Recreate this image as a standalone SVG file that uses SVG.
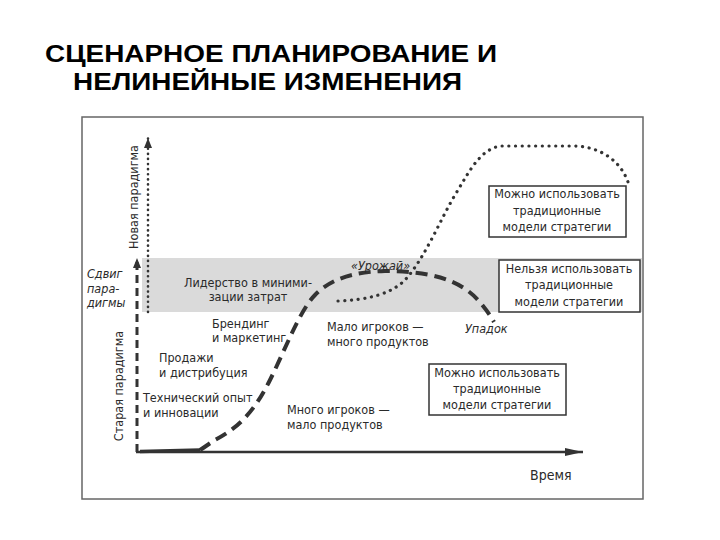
<svg xmlns="http://www.w3.org/2000/svg" width="720" height="540" viewBox="0 0 720 540">
<style>
.t{font-family:"DejaVu Sans Condensed","DejaVu Sans",sans-serif;font-size:12.5px;fill:#2a2a2a}
.i{font-style:italic}
.m{text-anchor:middle}
.title{font-family:"Liberation Sans",Arial,sans-serif;font-weight:bold;font-size:24px;fill:#000}
.box{fill:#fff;stroke:#333;stroke-width:1.5}
.dash{fill:none;stroke:#333;stroke-width:4;stroke-dasharray:12 7}
.dot{fill:none;stroke:#333;stroke-width:3.2;stroke-linecap:round;stroke-dasharray:0.1 6.6}
</style>
<defs>
<marker id="ah" viewBox="0 0 10 10" refX="10" refY="5" markerWidth="10" markerHeight="10" markerUnits="userSpaceOnUse" orient="auto">
<path d="M0,1 L10,5 L0,9 Z" fill="#333"/>
</marker>
<marker id="ahx" viewBox="0 0 18 8" refX="18" refY="4" markerWidth="18" markerHeight="8" markerUnits="userSpaceOnUse" orient="auto">
<path d="M0,0 L18,4 L0,8 Z" fill="#333"/>
</marker>
</defs>
<rect width="720" height="540" fill="#fff"/>
<g id="title">
<text class="title" x="45" y="62" textLength="452" lengthAdjust="spacingAndGlyphs">СЦЕНАРНОЕ ПЛАНИРОВАНИЕ И</text>
<text class="title" x="73" y="90" textLength="389" lengthAdjust="spacingAndGlyphs">НЕЛИНЕЙНЫЕ ИЗМЕНЕНИЯ</text>
</g>
<g id="frame">
<rect x="82" y="117" width="561" height="382" fill="#fff" stroke="#666" stroke-width="1.5"/>
<rect x="142" y="258" width="500" height="54" fill="#dadada"/>
</g>
<g id="connectors">
<line x1="137" y1="452" x2="137" y2="258" stroke="#333" stroke-width="3" stroke-dasharray="8 5" marker-end="url(#ah)"/>
<line x1="148" y1="312" x2="148" y2="138" stroke="#333" stroke-width="2.6" stroke-linecap="round" stroke-dasharray="0.1 5" marker-end="url(#ah)"/>
<line x1="136" y1="452" x2="583" y2="452" stroke="#333" stroke-width="2.5" marker-end="url(#ahx)"/>
<path d="M140,451.5 L200,450" stroke="#333" stroke-width="3.5" fill="none"/>
<path class="dash" d="M200,450 C205,447 210,443 215,440 C240,427 255,410 270,380 C285,350 300,310 315,295 C330,280 350,272 385,271 C430,271 460,280 478,300 C486,309 490,315 494,322"/>
<path class="dot" d="M338,301 C365,300 390,295 405,280 C425,258 440,220 455,195 C470,170 480,150 500,146 L575,146 C600,147 620,160 628,182"/>
</g>
<g id="axis-labels">
<text class="t m" transform="translate(138,197) rotate(-90)">Новая парадигма</text>
<text class="t m" transform="translate(123,386) rotate(-90)">Старая парадигма</text>
<text class="t i" x="87" y="278">Сдвиг</text>
<text class="t i" x="87" y="293">пара-</text>
<text class="t i" x="87" y="307">дигмы</text>
<text class="t" x="530" y="480" style="font-size:14px">Время</text>
</g>
<g id="stage-labels">
<text class="t m" x="248" y="287">Лидерство в миними-</text>
<text class="t m" x="248" y="301">зации затрат</text>
<text class="t" x="212" y="328">Брендинг</text>
<text class="t" x="212" y="342">и маркетинг</text>
<text class="t" x="159" y="362">Продажи</text>
<text class="t" x="159" y="377">и дистрибуция</text>
<text class="t" x="143" y="402">Технический опыт</text>
<text class="t" x="143" y="417">и инновации</text>
<text class="t" x="287" y="414">Много игроков —</text>
<text class="t" x="287" y="429">мало продуктов</text>
<text class="t" x="327" y="331">Мало игроков —</text>
<text class="t" x="327" y="346">много продуктов</text>
<text class="t i" x="351" y="270">«Урожай»</text>
<text class="t i" x="465" y="333">Упадок</text>
</g>
<g id="box1">
<rect class="box" x="489" y="186" width="137" height="51"/>
<text class="t m" x="557" y="198">Можно использовать</text>
<text class="t m" x="557" y="215">традиционные</text>
<text class="t m" x="557" y="231">модели стратегии</text>
</g>
<g id="box2">
<rect class="box" x="499" y="260" width="141" height="52"/>
<text class="t m" x="569" y="273">Нельзя использовать</text>
<text class="t m" x="569" y="289">традиционные</text>
<text class="t m" x="569" y="306">модели стратегии</text>
</g>
<g id="box3">
<rect class="box" x="429" y="364" width="137" height="51"/>
<text class="t m" x="497" y="377">Можно использовать</text>
<text class="t m" x="497" y="393">традиционные</text>
<text class="t m" x="497" y="409">модели стратегии</text>
</g>
</svg>
